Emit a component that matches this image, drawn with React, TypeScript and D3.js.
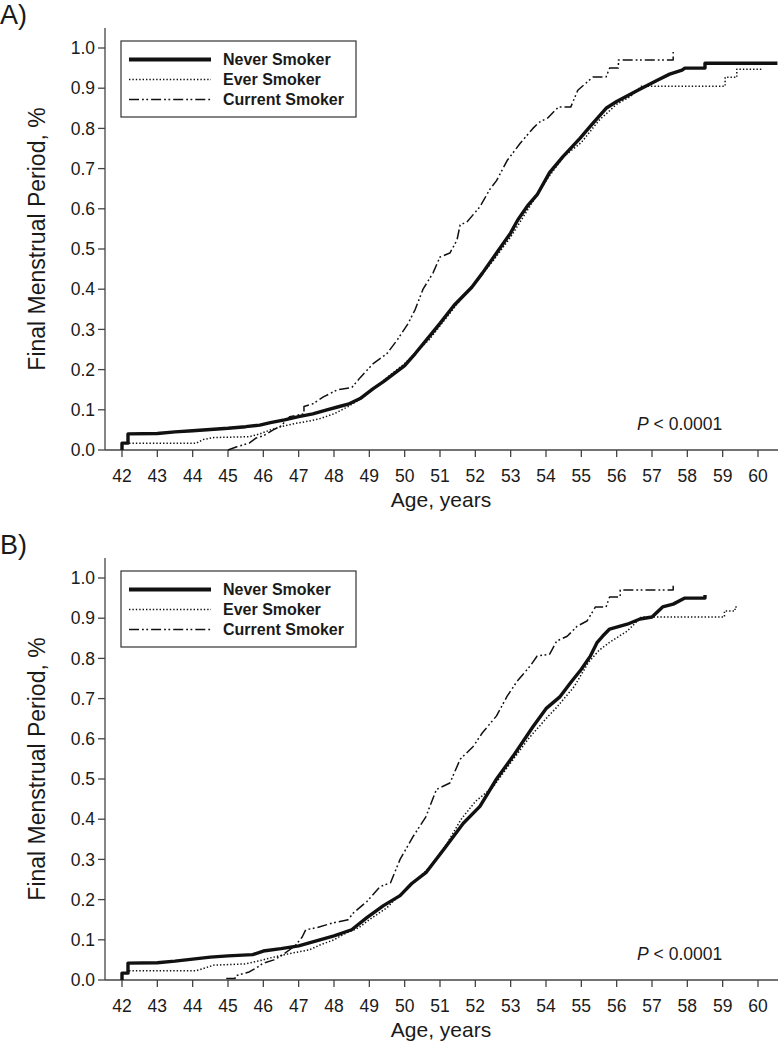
import React from "react";
import * as d3 from "d3";

type P = [number, number];

const xTicks = [42, 43, 44, 45, 46, 47, 48, 49, 50, 51, 52, 53, 54, 55, 56, 57, 58, 59, 60];
const yTicks = [0, 0.1, 0.2, 0.3, 0.4, 0.5, 0.6, 0.7, 0.8, 0.9, 1.0];
const seriesNames = ["Never Smoker", "Ever Smoker", "Current Smoker"];
const panelLabels = ["A)", "B)"];
const pText = "< 0.0001";

const neverA: P[] = [
  [42.0, 0], [42.0, 0.017], [42.17, 0.017], [42.17, 0.04], [43.0, 0.041], [43.5, 0.045], [44.0, 0.048],
  [44.5, 0.051], [45.0, 0.054], [45.5, 0.058], [45.9, 0.062], [46.2, 0.068], [46.6, 0.075], [47.0, 0.083],
  [47.4, 0.09], [47.8, 0.1], [48.1, 0.107], [48.4, 0.114], [48.74, 0.128], [49.1, 0.152], [49.4, 0.17],
  [49.7, 0.19], [50.0, 0.21], [50.3, 0.24], [50.6, 0.272], [51.0, 0.315], [51.4, 0.36], [51.9, 0.405],
  [52.2, 0.44], [52.6, 0.49], [53.0, 0.54], [53.2, 0.572], [53.5, 0.61], [53.75, 0.635], [54.1, 0.69],
  [54.48, 0.73], [54.96, 0.775], [55.3, 0.81], [55.7, 0.85], [56.0, 0.867], [56.6, 0.895], [57.15, 0.92],
  [57.5, 0.935], [57.85, 0.945], [57.93, 0.95], [58.5, 0.95], [58.5, 0.962], [60.55, 0.962],
];
const everA: P[] = [
  [42.2, 0.017], [44.1, 0.017], [44.3, 0.026], [44.6, 0.031], [45.6, 0.033], [45.9, 0.04], [46.2, 0.05],
  [46.5, 0.058], [46.9, 0.066], [47.3, 0.072], [47.6, 0.078], [48.0, 0.09], [48.4, 0.108], [48.8, 0.13],
  [49.1, 0.15], [49.5, 0.18], [50.0, 0.215], [50.4, 0.25], [50.7, 0.275], [51.1, 0.32], [51.5, 0.365],
  [52.07, 0.425], [52.5, 0.47], [53.0, 0.53], [53.5, 0.6], [54.0, 0.67], [54.5, 0.73], [55.0, 0.765],
  [55.5, 0.82], [56.0, 0.86], [56.4, 0.88], [56.7, 0.905], [59.07, 0.905], [59.07, 0.927], [59.4, 0.927],
  [59.4, 0.947], [60.15, 0.947],
];
const currentA: P[] = [
  [45.0, 0.0], [45.25, 0.008], [45.6, 0.017], [45.8, 0.03], [46.0, 0.035], [46.28, 0.05], [46.5, 0.06],
  [46.75, 0.083], [47.15, 0.09], [47.15, 0.108], [47.4, 0.115], [47.7, 0.132], [48.1, 0.15], [48.5, 0.155],
  [48.74, 0.18], [49.1, 0.214], [49.5, 0.24], [49.8, 0.275], [50.1, 0.315], [50.3, 0.35], [50.52, 0.4],
  [50.8, 0.44], [51.0, 0.48], [51.28, 0.49], [51.48, 0.522], [51.57, 0.56], [51.76, 0.567], [52.13, 0.605],
  [52.4, 0.647], [52.6, 0.67], [52.9, 0.72], [53.27, 0.763], [53.63, 0.8], [53.8, 0.815], [54.05, 0.826],
  [54.35, 0.853], [54.7, 0.853], [54.9, 0.895], [55.33, 0.928], [55.7, 0.928], [55.8, 0.95], [56.05, 0.95],
  [56.05, 0.97], [57.6, 0.97], [57.6, 0.99],
];

const neverB: P[] = [
  [42.0, 0], [42.0, 0.017], [42.17, 0.017], [42.17, 0.042], [43.0, 0.043], [43.5, 0.047], [44.0, 0.052],
  [44.5, 0.057], [45.0, 0.06], [45.7, 0.063], [46.0, 0.072], [46.5, 0.078], [47.0, 0.085], [47.6, 0.1],
  [48.0, 0.11], [48.5, 0.125], [48.93, 0.155], [49.4, 0.185], [49.87, 0.21], [50.2, 0.24], [50.6, 0.267],
  [51.1, 0.324], [51.66, 0.39], [52.13, 0.432], [52.6, 0.5], [53.07, 0.557], [53.63, 0.63], [54.0, 0.675],
  [54.4, 0.705], [54.7, 0.74], [55.0, 0.773], [55.25, 0.805], [55.45, 0.84], [55.6, 0.855], [55.8, 0.873],
  [56.3, 0.885], [56.66, 0.898], [57.0, 0.903], [57.3, 0.928], [57.6, 0.935], [57.93, 0.95], [58.5, 0.95],
  [58.5, 0.958],
];
const everB: P[] = [
  [42.2, 0.023], [44.1, 0.023], [44.6, 0.037], [45.5, 0.04], [45.9, 0.048], [46.2, 0.055], [46.7, 0.065],
  [47.3, 0.075], [47.6, 0.087], [48.0, 0.1], [48.3, 0.115], [48.7, 0.13], [49.0, 0.15], [49.5, 0.18],
  [49.9, 0.215], [50.3, 0.245], [50.7, 0.28], [51.2, 0.34], [51.6, 0.4], [52.0, 0.444], [52.5, 0.48],
  [53.0, 0.54], [53.5, 0.6], [54.0, 0.65], [54.3, 0.678], [54.8, 0.73], [55.2, 0.79], [55.5, 0.82],
  [55.8, 0.84], [56.3, 0.868], [56.7, 0.903], [59.05, 0.903], [59.05, 0.918], [59.35, 0.918],
  [59.35, 0.928], [59.45, 0.928],
];
const currentB: P[] = [
  [44.95, 0.004], [45.2, 0.004], [45.2, 0.01], [45.6, 0.02], [45.8, 0.03], [46.0, 0.042], [46.3, 0.05],
  [46.5, 0.06], [46.9, 0.085], [47.1, 0.107], [47.2, 0.125], [47.5, 0.13], [47.97, 0.142], [48.4, 0.15],
  [48.55, 0.167], [48.93, 0.195], [49.3, 0.232], [49.6, 0.242], [49.87, 0.3], [50.24, 0.357], [50.6, 0.406],
  [50.9, 0.474], [51.28, 0.49], [51.57, 0.549], [51.94, 0.581], [52.2, 0.615], [52.6, 0.657], [52.9, 0.706],
  [53.18, 0.743], [53.55, 0.781], [53.75, 0.806], [54.1, 0.81], [54.3, 0.843], [54.6, 0.855], [54.88, 0.88],
  [55.16, 0.893], [55.4, 0.928], [55.7, 0.928], [55.8, 0.953], [56.1, 0.953], [56.1, 0.97], [57.6, 0.97],
  [57.6, 0.982],
];

const panels = [
  { label: panelLabels[0], series: [neverA, everA, currentA] },
  { label: panelLabels[1], series: [neverB, everB, currentB] },
];

const FONT = "'Liberation Sans', Arial, Helvetica, sans-serif";
const INK = "#1a1a1a";
const AXIS = "#444";

const styles = [
  { width: 3.4, dash: "none" },
  { width: 1.5, dash: "1.4,2" },
  { width: 1.5, dash: "10,3,1.8,2.5,1.8,3" },
];

const x = d3.scaleLinear().domain([42, 60]).range([122, 758]);
const y = d3.scaleLinear().domain([0, 1]).range([450, 48]);
const line = d3
  .line<P>()
  .x((d) => x(d[0]))
  .y((d) => y(d[1]))
  .curve(d3.curveLinear);

function Panel({ label, series, dy }: { label: string; series: P[][]; dy: number }) {
  const x0 = 105;
  const xEnd = 778;
  return (
    <g transform={`translate(0,${dy})`}>
      <text x={0} y={24} fontSize={27} fill={INK} fontFamily={FONT}>{label}</text>
      <line x1={x0} x2={x0} y1={28} y2={y(0)} stroke={AXIS} strokeWidth={1.3} />
      {yTicks.map((t) => (
        <g key={t}>
          <line x1={x0 - 7} x2={x0} y1={y(t)} y2={y(t)} stroke={AXIS} strokeWidth={1.3} />
          <text x={95} y={y(t)} dy="0.35em" textAnchor="end" fontSize={17.5} fill={INK} fontFamily={FONT}>
            {d3.format(".1f")(t)}
          </text>
        </g>
      ))}
      <line x1={x0} x2={xEnd} y1={y(0)} y2={y(0)} stroke={AXIS} strokeWidth={1.3} />
      {xTicks.map((t) => (
        <g key={t}>
          <line x1={x(t)} x2={x(t)} y1={y(0)} y2={y(0) + 7} stroke={AXIS} strokeWidth={1.3} />
          <text x={x(t)} y={y(0) + 32} textAnchor="middle" fontSize={17.5} fill={INK} fontFamily={FONT}>
            {t}
          </text>
        </g>
      ))}
      <text x={441} y={y(0) + 57} textAnchor="middle" fontSize={21} fill={INK} fontFamily={FONT}>
        Age, years
      </text>
      <text
        transform={`translate(45,${(28 + y(0)) / 2}) rotate(-90)`}
        textAnchor="middle"
        fontSize={23}
        fill={INK}
        fontFamily={FONT}
      >
        Final Menstrual Period, %
      </text>
      {series.map((s, i) => (
        <path
          key={i}
          d={line(s) || ""}
          fill="none"
          stroke="#111"
          strokeWidth={styles[i].width}
          strokeDasharray={styles[i].dash}
          strokeLinejoin="round"
        />
      ))}
      <rect x={121} y={41} width={235} height={76} fill="#fff" stroke="#333" strokeWidth={1.2} />
      {seriesNames.map((n, i) => {
        const ly = 59.5 + i * 20;
        return (
          <g key={n}>
            <line
              x1={129}
              x2={211}
              y1={ly}
              y2={ly}
              stroke="#111"
              strokeWidth={i === 0 ? 4 : 1.5}
              strokeDasharray={styles[i].dash}
            />
            <text x={223} y={ly} dy="0.36em" fontSize={16} fontWeight="bold" fill={INK} fontFamily={FONT}>
              {n}
            </text>
          </g>
        );
      })}
      <text x={637} y={430} fontSize={17.5} fill={INK} fontFamily={FONT}>
        <tspan fontStyle="italic">P</tspan> {pText}
      </text>
    </g>
  );
}

export default function App() {
  return (
    <svg
      width={780}
      height={1046}
      viewBox="0 0 780 1046"
      style={{ position: "absolute", left: 0, top: 0, background: "#fff" }}
    >
      <rect width={780} height={1046} fill="#fff" />
      {panels.map((p, i) => (
        <Panel key={p.label} label={p.label} series={p.series} dy={i * 530} />
      ))}
    </svg>
  );
}
